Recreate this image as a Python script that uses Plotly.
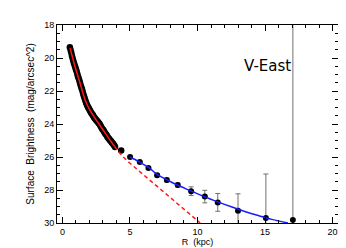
import plotly.graph_objects as go

# Inner profile (dense black data)
inner_r = [0.55, 0.60, 0.65, 0.70, 0.75, 0.80, 0.85, 0.90, 0.95, 1.00, 1.05, 1.10,
           1.15, 1.20, 1.25, 1.30, 1.35, 1.40, 1.45, 1.50, 1.55, 1.60, 1.65, 1.70,
           1.75, 1.80, 1.85, 1.90, 1.95, 2.00, 2.05, 2.10, 2.15, 2.20, 2.25, 2.30,
           2.35, 2.40, 2.45, 2.50, 2.55, 2.60, 2.65, 2.70, 2.75, 2.80, 2.85, 2.90,
           2.95, 3.00, 3.05, 3.10, 3.15, 3.20, 3.25, 3.30, 3.35, 3.40, 3.45, 3.50,
           3.55, 3.60, 3.65, 3.70, 3.75, 3.80, 3.85, 3.90, 4.35]
inner_mu = [19.35, 19.5, 19.65, 19.85, 20.0, 20.15, 20.3, 20.42, 20.55, 20.68, 20.8, 20.95,
            21.1, 21.22, 21.35, 21.5, 21.65, 21.78, 21.9, 22.05, 22.2, 22.32, 22.45, 22.58,
            22.7, 22.8, 22.9, 22.98, 23.05, 23.12, 23.2, 23.28, 23.35, 23.4, 23.45, 23.53,
            23.6, 23.65, 23.7, 23.75, 23.8, 23.85, 23.9, 23.95, 24.0, 24.08, 24.15, 24.22,
            24.3, 24.35, 24.4, 24.48, 24.55, 24.6, 24.65, 24.72, 24.8, 24.85, 24.9, 24.95,
            25.0, 25.05, 25.1, 25.15, 25.2, 25.26, 25.32, 25.4, 25.6]

# Outer profile with error bars
outer_r = [5.01, 5.73, 6.37, 7.01, 7.73, 8.54, 9.53, 10.54, 11.5, 13.0, 15.06, 17.06]
outer_mu = [26.0, 26.3, 26.66, 27.1, 27.4, 27.7, 28.07, 28.4, 28.75, 29.26, 29.7, 29.82]
outer_err = [0.05, 0.06, 0.08, 0.1, 0.12, 0.12, 0.26, 0.38, 0.54, 1.03, 2.67, 13.0]

# Red inner fit (solid part and dashed extrapolation)
red_r = [0.57, 0.9, 1.3, 1.7, 2.0, 2.5, 3.0, 3.5, 3.85]
red_mu = [19.4, 20.42, 21.5, 22.58, 23.12, 23.75, 24.35, 24.95, 25.35]
red_ext_r = [3.85, 4.4, 5.0, 6.0, 7.0, 8.0, 9.33, 10.2]
red_ext_mu = [25.35, 25.92, 26.38, 27.07, 27.76, 28.45, 29.38, 30.0]

# Blue outer fit
blue_r = [5.0, 5.7, 6.4, 7.0, 7.85, 8.5, 9.5, 10.5, 11.5, 12.5, 13.5, 14.5, 15.5, 16.7]
blue_mu = [26.0, 26.3, 26.65, 27.05, 27.43, 27.7, 28.05, 28.4, 28.72, 29.02, 29.3, 29.55, 29.78, 30.0]

label = "V-East"

fig = go.Figure()
fig.add_trace(go.Scatter(x=inner_r, y=inner_mu, mode="markers",
                         marker=dict(color="black", size=6.5), showlegend=False))
fig.add_trace(go.Scatter(x=outer_r, y=outer_mu, mode="markers",
                         marker=dict(color="black", size=6),
                         error_y=dict(type="data", array=outer_err, color="#707070",
                                      thickness=1, width=2.5),
                         showlegend=False))
fig.add_trace(go.Scatter(x=red_r, y=red_mu, mode="lines",
                         line=dict(color="#ff1a1a", width=1.5, shape="spline"), showlegend=False))
fig.add_trace(go.Scatter(x=red_ext_r, y=red_ext_mu, mode="lines",
                         line=dict(color="#ff1a1a", width=1.5, dash="4px,3px"),
                         showlegend=False))
fig.add_trace(go.Scatter(x=blue_r, y=blue_mu, mode="lines",
                         line=dict(color="#1a1aff", width=1.5, shape="spline"), showlegend=False))

fig.add_annotation(x=15.15, y=20.5, text=label, showarrow=False,
                   font=dict(family="DejaVu Sans", size=15, color="black"))

axis_common = dict(showgrid=False, zeroline=False, showline=True, linecolor="black",
                   linewidth=1, mirror="ticks", ticks="inside", tickcolor="black",
                   ticklen=6, tickwidth=1,
                   tickfont=dict(family="Liberation Sans", size=9, color="black"))

fig.update_xaxes(range=[-0.4, 20.4], dtick=5, tick0=0,
                 minor=dict(dtick=1, ticks="inside", ticklen=3, tickcolor="black"),
                 title=dict(text="R\u00a0\u00a0(kpc)", font=dict(family="Liberation Sans", size=9, color="black"),
                            standoff=1),
                 **axis_common)
fig.update_yaxes(range=[30, 18], dtick=2, tick0=18,
                 minor=dict(dtick=0.5, ticks="inside", ticklen=3, tickcolor="black"),
                 title=dict(text="Surface\u00a0\u00a0Brightness\u00a0\u00a0(mag/arcsec^2)",
                            font=dict(family="Liberation Sans", size=10, color="black"),
                            standoff=7),
                 **axis_common)

fig.update_layout(width=346, height=248, margin=dict(l=49, r=16, t=16, b=32),
                  paper_bgcolor="white", plot_bgcolor="white")

fig.write_html("out.html")
